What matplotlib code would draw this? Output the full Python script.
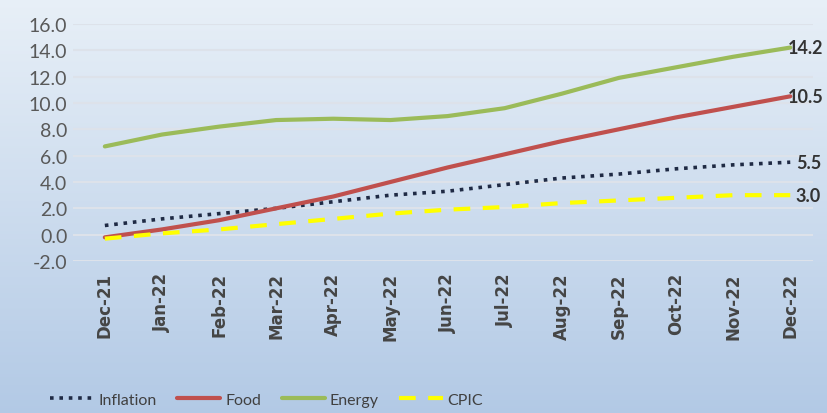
import numpy as np
from matplotlib import pyplot as plt

months = ["Dec-21", "Jan-22", "Feb-22", "Mar-22", "Apr-22", "May-22", "Jun-22",
          "Jul-22", "Aug-22", "Sep-22", "Oct-22", "Nov-22", "Dec-22"]
inflation = [0.7, 1.2, 1.6, 2.0, 2.5, 3.0, 3.3, 3.8, 4.3, 4.6, 5.0, 5.3, 5.5]
food = [-0.2, 0.4, 1.1, 2.0, 2.9, 4.0, 5.1, 6.1, 7.1, 8.0, 8.9, 9.7, 10.5]
energy = [6.7, 7.6, 8.2, 8.7, 8.8, 8.7, 9.0, 9.6, 10.7, 11.9, 12.7, 13.5, 14.2]
cpic = [-0.3, 0.1, 0.4, 0.8, 1.2, 1.6, 1.9, 2.1, 2.4, 2.6, 2.8, 3.0, 3.0]

fig = plt.figure(figsize=(8.28, 4.14), dpi=100)

# background gradient over the whole figure
bg = fig.add_axes([0, 0, 1, 1], zorder=-10)
grad = np.linspace(0, 1, 256).reshape(-1, 1)
top = np.array([0.91, 0.94, 0.97])
bottom = np.array([0.70, 0.79, 0.90])
img = top + (bottom - top) * grad[:, :, None]
bg.imshow(img, aspect="auto", extent=[0, 1, 0, 1])
bg.axis("off")

ax = fig.add_axes([0.088, 0.367, 0.894, 0.573])
ax.patch.set_alpha(0)
x = np.arange(len(months))

ax.plot(x, inflation, color="#1f2a44", lw=2.6, ls=(0, (1, 1.6)), label="Inflation")
ax.plot(x, food, color="#c0504d", lw=3, label="Food", solid_capstyle="round")
ax.plot(x, energy, color="#9bbb59", lw=3, label="Energy", solid_capstyle="round")
ax.plot(x, cpic, color="#ffff00", lw=3, ls=(0, (4, 3)), label="CPIC")

# end-of-line value labels
for series, dx in ((inflation, 0.1), (food, -0.04), (energy, -0.04), (cpic, 0.1)):
    ax.text(x[-1] + dx, series[-1], f"{series[-1]:.1f}", fontsize=13,
            fontweight="bold", color="#333333", va="center", ha="left",
            family="Lato")

ax.set_ylim(-2, 16)
ax.set_yticks(np.arange(-2, 16.1, 2))
ax.set_yticklabels([f"{v:.1f}" for v in np.arange(-2, 16.1, 2)],
                   fontsize=14, color="#595959", family="Lato")
ax.set_xlim(-0.56, 12.4)
ax.set_xticks(x)
ax.set_xticklabels(months, rotation=90, fontsize=12, color="#454545",
                   fontweight="bold", family="DejaVu Sans")
ax.tick_params(length=0, pad=8)
ax.tick_params(axis="y", pad=4)
ax.grid(axis="y", color="#dde2ea", lw=1.5)
ax.set_axisbelow(True)
for s in ax.spines.values():
    s.set_visible(False)

fig.legend(loc="lower center", bbox_to_anchor=(0.322, -0.02), ncol=4, frameon=False,
           prop={"family": "Lato", "size": 11.5}, labelcolor="#404040",
           handlelength=2.7, columnspacing=1.3, handletextpad=0.3)

fig.savefig("out.png", dpi=100)
